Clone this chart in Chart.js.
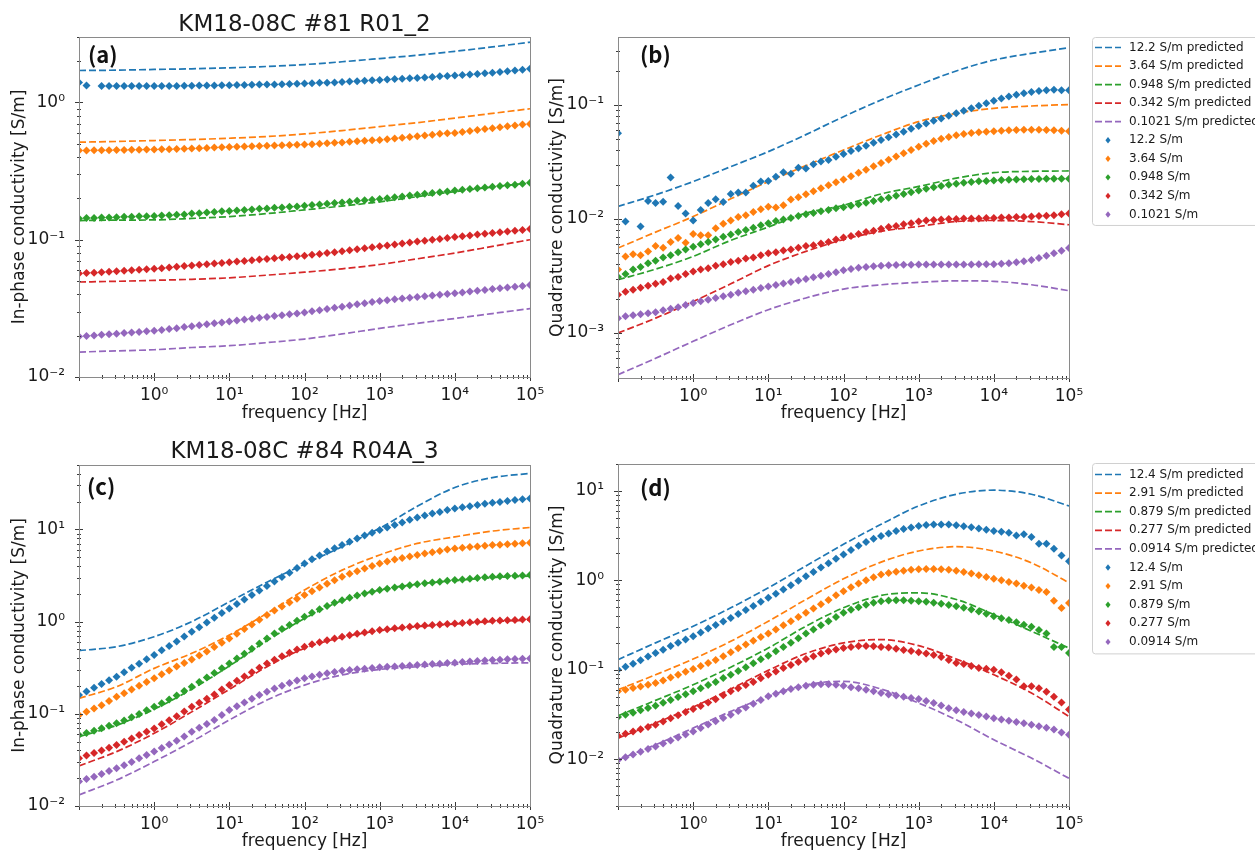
<!DOCTYPE html>
<html>
<head>
<meta charset="utf-8">
<script src="https://cdn.jsdelivr.net/npm/chart.js@4.4.1/dist/chart.umd.min.js"></script>
<style>
  html, body { margin: 0; padding: 0; background: #fff; }
  body { width: 1255px; height: 850px; position: relative; overflow: hidden; }
  canvas { position: absolute; }
</style>
</head>
<body>
<canvas id="chartA" width="560" height="430" style="left:0;top:0"></canvas>
<canvas id="chartB" width="725" height="430" style="left:530px;top:0"></canvas>
<canvas id="chartC" width="560" height="420" style="left:0;top:430px"></canvas>
<canvas id="chartD" width="725" height="420" style="left:530px;top:430px"></canvas>
<script>
// measurement frequencies (10 per decade) and frequencies of the model curves
const freqMeas = [
  0.1, 0.1259, 0.1585, 0.1995, 0.2512, 0.3162, 0.3981, 0.5012, 0.631, 0.7943,
  1, 1.259, 1.585, 1.995, 2.512, 3.162, 3.981, 5.012, 6.31, 7.943,
  10, 12.59, 15.85, 19.95, 25.12, 31.62, 39.81, 50.12, 63.1, 79.43,
  100, 125.9, 158.5, 199.5, 251.2, 316.2, 398.1, 501.2, 631, 794.3,
  1000, 1259, 1585, 1995, 2512, 3162, 3981, 5012, 6310, 7943,
  10000, 12589, 15849, 19953, 25119, 31623, 39811, 50119, 63096, 79433, 100000
];
const freqPred = [0.1, 0.3162, 1, 3.162, 10, 31.62, 100, 316.2, 1000, 3162, 10000, 31623, 100000];

const names81 = ['12.2 S/m', '3.64 S/m', '0.948 S/m', '0.342 S/m', '0.1021 S/m'];
const names84 = ['12.4 S/m', '2.91 S/m', '0.879 S/m', '0.277 S/m', '0.0914 S/m'];

const xTicks = [1, 10, 100, 1000, 10000, 100000];
const xTickLabels = ['10⁰', '10¹', '10²', '10³', '10⁴', '10⁵'];
const yTicksA = [0.01, 0.1, 1];
const yTickLabelsA = ['10⁻²', '10⁻¹', '10⁰'];
const yTicksB = [0.001, 0.01, 0.1];
const yTickLabelsB = ['10⁻³', '10⁻²', '10⁻¹'];
const yTicksCD = [0.01, 0.1, 1, 10];
const yTickLabelsCD = ['10⁻²', '10⁻¹', '10⁰', '10¹'];

// (a) #81 in-phase
const aPred1 = [1.71, 1.72, 1.74, 1.76, 1.79, 1.83, 1.89, 1.98, 2.09, 2.21, 2.36, 2.54, 2.75];
const aPred2 = [0.514, 0.52, 0.528, 0.537, 0.549, 0.565, 0.59, 0.624, 0.667, 0.713, 0.77, 0.833, 0.90];
const aPred3 = [0.138, 0.139, 0.1395, 0.143, 0.1475, 0.155, 0.165, 0.176, 0.189, 0.206, 0.224, 0.242, 0.26];
const aPred4 = [0.0492, 0.0498, 0.0506, 0.0515, 0.0528, 0.0552, 0.058, 0.0614, 0.066, 0.0726, 0.080, 0.0894, 0.10];
const aPred5 = [0.0152, 0.0155, 0.0158, 0.0164, 0.0169, 0.0178, 0.0189, 0.0206, 0.0226, 0.0246, 0.0267, 0.029, 0.0315];
const aMeas1 = [
  1.40, 1.33, null, 1.32, 1.32, 1.32, 1.32, 1.32, 1.32, 1.32,
  1.32, 1.32, 1.32, 1.32, 1.325, 1.325, 1.33, 1.33, 1.33, 1.335,
  1.335, 1.34, 1.34, 1.345, 1.35, 1.35, 1.355, 1.36, 1.365, 1.37,
  1.375, 1.38, 1.39, 1.395, 1.40, 1.41, 1.42, 1.43, 1.44, 1.45,
  1.46, 1.47, 1.48, 1.49, 1.50, 1.51, 1.52, 1.535, 1.55, 1.56,
  1.57, 1.585, 1.60, 1.615, 1.63, 1.65, 1.67, 1.69, 1.71, 1.73, 1.76];
const aMeas2 = [
  0.447, 0.447, 0.448, 0.448, 0.449, 0.45, 0.451, 0.452, 0.453, 0.454,
  0.455, 0.456, 0.457, 0.459, 0.461, 0.463, 0.465, 0.467, 0.469, 0.471,
  0.473, 0.475, 0.477, 0.479, 0.481, 0.483, 0.485, 0.488, 0.490, 0.492,
  0.494, 0.497, 0.500, 0.504, 0.508, 0.512, 0.517, 0.522, 0.527, 0.531,
  0.534, 0.540, 0.546, 0.553, 0.560, 0.567, 0.575, 0.583, 0.591, 0.596,
  0.60, 0.61, 0.62, 0.63, 0.64, 0.65, 0.66, 0.67, 0.68, 0.69, 0.697];
const aMeas3 = [
  0.143, 0.144, 0.144, 0.145, 0.145, 0.146, 0.147, 0.147, 0.148, 0.148,
  0.149, 0.150, 0.151, 0.152, 0.153, 0.155, 0.156, 0.158, 0.159, 0.161,
  0.162, 0.163, 0.165, 0.166, 0.168, 0.169, 0.171, 0.172, 0.174, 0.175,
  0.177, 0.179, 0.181, 0.183, 0.185, 0.187, 0.189, 0.192, 0.194, 0.196,
  0.198, 0.201, 0.204, 0.207, 0.210, 0.213, 0.216, 0.219, 0.222, 0.225,
  0.228, 0.231, 0.234, 0.237, 0.240, 0.243, 0.246, 0.249, 0.252, 0.256, 0.26];
const aMeas4 = [
  0.0568, 0.0572, 0.0576, 0.058, 0.0584, 0.0589, 0.0594, 0.0599, 0.0604, 0.0609,
  0.0614, 0.0621, 0.0628, 0.0635, 0.0643, 0.065, 0.0657, 0.0664, 0.0671, 0.0678,
  0.0686, 0.0693, 0.0701, 0.0709, 0.0717, 0.0725, 0.0733, 0.0741, 0.075, 0.0758,
  0.0766, 0.0777, 0.0788, 0.08, 0.0812, 0.0825, 0.0838, 0.0852, 0.0866, 0.088,
  0.0895, 0.0909, 0.0924, 0.0939, 0.0954, 0.0969, 0.0984, 0.0999, 0.1014, 0.103,
  0.1045, 0.106, 0.1075, 0.109, 0.1105, 0.112, 0.1135, 0.115, 0.1165, 0.118, 0.1195];
const aMeas5 = [
  0.0197, 0.0199, 0.0201, 0.0203, 0.0205, 0.0207, 0.0209, 0.0211, 0.0213, 0.0215,
  0.0217, 0.0220, 0.0224, 0.0227, 0.0231, 0.0234, 0.0238, 0.0242, 0.0246, 0.025,
  0.0254, 0.0258, 0.0262, 0.0266, 0.027, 0.0274, 0.0278, 0.0282, 0.0286, 0.029,
  0.0295, 0.0301, 0.0307, 0.0313, 0.0319, 0.0325, 0.0332, 0.0339, 0.0345, 0.0352,
  0.0358, 0.0363, 0.0368, 0.0373, 0.0378, 0.0383, 0.0388, 0.0393, 0.0398, 0.0402,
  0.0407, 0.0413, 0.0419, 0.0425, 0.0431, 0.0437, 0.0443, 0.0449, 0.0455, 0.0461, 0.0468];

// (b) #81 quadrature
const bPred1 = [0.0129, 0.0163, 0.0213, 0.0288, 0.039, 0.055, 0.079, 0.1106, 0.150, 0.199, 0.248, 0.284, 0.318];
const bPred2 = [0.00556, 0.00767, 0.0105, 0.01503, 0.0213, 0.0294, 0.0403, 0.0546, 0.0714, 0.0845, 0.0935, 0.098, 0.101];
const bPred3 = [0.00293, 0.00363, 0.0047, 0.00649, 0.0085, 0.01125, 0.0132, 0.0166, 0.0193, 0.0228, 0.0255, 0.0262, 0.0264];
const bPred4 = [0.001, 0.00135, 0.00189, 0.0027, 0.0039, 0.0052, 0.0066, 0.0078, 0.0086, 0.0095, 0.0097, 0.0095, 0.0089];
const bPred5 = [0.000431, 0.0006, 0.000845, 0.00118, 0.0016, 0.00203, 0.00243, 0.00265, 0.00278, 0.00287, 0.00284, 0.00265, 0.00235];
const bMeas1 = [
  0.0565, 0.0095, null, 0.0086, 0.0144, 0.0138, 0.0142, 0.0231, 0.0130, 0.0112,
  0.0097, 0.0120, 0.0138, 0.0149, 0.0141, 0.0166, 0.0171, 0.0171, 0.0196, 0.0213,
  0.0216, 0.0235, 0.0257, 0.0249, 0.0282, 0.0278, 0.0302, 0.0319, 0.033, 0.0352,
  0.0372, 0.0394, 0.0416, 0.044, 0.0466, 0.0493, 0.0522, 0.0552, 0.0584, 0.0618,
  0.0655, 0.069, 0.0726, 0.0763, 0.0803, 0.0845, 0.0889, 0.0935, 0.0983, 0.1035,
  0.109, 0.114, 0.119, 0.123, 0.127, 0.130, 0.133, 0.135, 0.136, 0.135, 0.135];
const bMeas2 = [
  0.0036, 0.0047, 0.0049, 0.0048, 0.0052, 0.0058, 0.0056, 0.0063, 0.0068, 0.0062,
  0.0074, 0.0072, 0.0072, 0.0083, 0.0091, 0.0097, 0.0104, 0.0108, 0.0115, 0.0122,
  0.0128, 0.0126, 0.0132, 0.0148, 0.0155, 0.0165, 0.0175, 0.0186, 0.0198, 0.021,
  0.0222, 0.0237, 0.0254, 0.0271, 0.029, 0.031, 0.0331, 0.0354, 0.0378, 0.0404,
  0.0431, 0.0458, 0.0483, 0.0505, 0.0525, 0.0542, 0.0556, 0.0567, 0.0576, 0.0583,
  0.0589, 0.0595, 0.06, 0.0604, 0.0607, 0.0608, 0.0607, 0.0604, 0.06, 0.0595, 0.0588];
const bMeas3 = [
  0.0031, 0.0033, 0.0036, 0.0038, 0.0041, 0.0043, 0.0046, 0.0048, 0.0051, 0.0054,
  0.0057, 0.006, 0.0063, 0.0066, 0.007, 0.0073, 0.0077, 0.008, 0.0084, 0.0088,
  0.0092, 0.0096, 0.0099, 0.0102, 0.0106, 0.011, 0.0113, 0.0117, 0.012, 0.0124,
  0.0127, 0.0131, 0.0135, 0.0139, 0.0144, 0.0149, 0.0154, 0.016, 0.0166, 0.0172,
  0.0178, 0.0184, 0.019, 0.0195, 0.02, 0.0204, 0.0208, 0.0211, 0.0214, 0.0216,
  0.0218, 0.022, 0.0221, 0.0222, 0.0223, 0.0224, 0.0224, 0.0225, 0.0225, 0.0225, 0.0226];
const bMeas4 = [
  0.00217, 0.0023, 0.0024, 0.0025, 0.0026, 0.0027, 0.0028, 0.003, 0.0031, 0.0033,
  0.00347, 0.0036, 0.0037, 0.0039, 0.004, 0.0042, 0.0043, 0.0045, 0.0046, 0.0048,
  0.005, 0.0051, 0.0053, 0.0054, 0.0056, 0.0058, 0.0059, 0.0061, 0.0063, 0.0066,
  0.0069, 0.0071, 0.0074, 0.0077, 0.0079, 0.0082, 0.0085, 0.0087, 0.009, 0.0092,
  0.0095, 0.0097, 0.0098, 0.0099, 0.01, 0.01, 0.0101, 0.0101, 0.0101, 0.0102,
  0.0102, 0.0103, 0.0103, 0.0104, 0.0104, 0.0105, 0.0106, 0.0107, 0.0108, 0.011, 0.0112];
const bMeas5 = [
  0.00135, 0.0014, 0.00143, 0.00146, 0.00149, 0.00152, 0.00158, 0.00163, 0.00168, 0.00176,
  0.00183, 0.0019, 0.00196, 0.00203, 0.0021, 0.00217, 0.00225, 0.00232, 0.0024, 0.00248,
  0.00256, 0.00264, 0.00272, 0.0028, 0.00289, 0.00298, 0.00308, 0.00318, 0.00329, 0.00342,
  0.00355, 0.00365, 0.00373, 0.0038, 0.00385, 0.00389, 0.00392, 0.00394, 0.00396, 0.00397,
  0.00398, 0.00398, 0.00398, 0.00398, 0.00398, 0.00398, 0.00399, 0.00399, 0.004, 0.004,
  0.00401, 0.00406, 0.0041, 0.00417, 0.00425, 0.00438, 0.00455, 0.00475, 0.005, 0.00526, 0.00556];

// (c) #84 in-phase
const cPred1 = [0.484, 0.535, 0.686, 1.0, 1.64, 2.68, 4.2, 6.5, 10.3, 17.8, 28.5, 36.5, 40.5];
const cPred2 = [0.147, 0.197, 0.311, 0.453, 0.715, 1.23, 2.2, 3.62, 5.28, 7.05, 8.3, 9.6, 10.5];
const cPred3 = [0.0565, 0.075, 0.112, 0.185, 0.33, 0.62, 1.08, 1.69, 2.2, 2.55, 2.78, 3.0, 3.12];
const cPred4 = [0.0272, 0.0389, 0.0614, 0.105, 0.184, 0.324, 0.513, 0.675, 0.797, 0.881, 0.942, 1.0, 1.04];
const cPred5 = [0.0132, 0.0191, 0.0303, 0.0499, 0.0857, 0.141, 0.205, 0.264, 0.303, 0.324, 0.344, 0.352, 0.358];
const cMeas1 = [
  0.16, 0.175, 0.192, 0.211, 0.231, 0.253, 0.283, 0.316, 0.349, 0.39,
  0.434, 0.49, 0.545, 0.61, 0.69, 0.776, 0.87, 0.98, 1.1, 1.24,
  1.39, 1.55, 1.74, 1.94, 2.17, 2.43, 2.72, 3.04, 3.4, 3.81,
  4.28, 4.75, 5.23, 5.75, 6.25, 6.76, 7.35, 7.95, 8.6, 9.2,
  9.84, 10.5, 11.2, 11.9, 12.7, 13.5, 14.2, 14.9, 15.5, 16.2,
  16.9, 17.4, 17.9, 18.4, 19.0, 19.5, 19.9, 20.3, 20.8, 21.2, 21.7];
const cMeas2 = [
  0.097, 0.105, 0.114, 0.124, 0.138, 0.153, 0.167, 0.183, 0.202, 0.222,
  0.243, 0.268, 0.295, 0.325, 0.356, 0.389, 0.43, 0.475, 0.53, 0.59,
  0.658, 0.74, 0.83, 0.93, 1.05, 1.18, 1.32, 1.46, 1.61, 1.77,
  1.94, 2.13, 2.34, 2.57, 2.81, 3.07, 3.3, 3.53, 3.77, 4.02,
  4.28, 4.5, 4.71, 4.9, 5.09, 5.28, 5.47, 5.66, 5.85, 6.04,
  6.22, 6.33, 6.44, 6.55, 6.66, 6.76, 6.84, 6.92, 7.0, 7.08, 7.16];
const cMeas3 = [
  0.0589, 0.0621, 0.0656, 0.0697, 0.0741, 0.0788, 0.0848, 0.0916, 0.0995, 0.109,
  0.119, 0.13, 0.143, 0.158, 0.177, 0.197, 0.221, 0.248, 0.277, 0.312,
  0.352, 0.397, 0.448, 0.508, 0.578, 0.658, 0.745, 0.83, 0.92, 1.02,
  1.13, 1.25, 1.36, 1.48, 1.6, 1.71, 1.82, 1.92, 2.02, 2.11,
  2.2, 2.27, 2.34, 2.41, 2.48, 2.55, 2.6, 2.66, 2.71, 2.77,
  2.82, 2.87, 2.92, 2.97, 3.02, 3.07, 3.1, 3.12, 3.15, 3.17, 3.2];
const cMeas4 = [
  0.0329, 0.0352, 0.0375, 0.0401, 0.0429, 0.0459, 0.0499, 0.0541, 0.0588, 0.064,
  0.0695, 0.0769, 0.085, 0.0941, 0.106, 0.119, 0.132, 0.146, 0.162, 0.183,
  0.205, 0.228, 0.254, 0.283, 0.316, 0.352, 0.385, 0.421, 0.46, 0.497,
  0.535, 0.567, 0.598, 0.628, 0.657, 0.686, 0.712, 0.738, 0.763, 0.787,
  0.811, 0.828, 0.845, 0.862, 0.879, 0.895, 0.907, 0.92, 0.932, 0.945,
  0.957, 0.969, 0.982, 0.994, 1.007, 1.02, 1.028, 1.036, 1.044, 1.052, 1.06];
const cMeas5 = [
  0.0184, 0.0196, 0.0208, 0.0223, 0.0239, 0.0256, 0.0277, 0.0301, 0.0329, 0.0358,
  0.0389, 0.0426, 0.0466, 0.051, 0.0568, 0.064, 0.0705, 0.0776, 0.0855, 0.0972,
  0.11, 0.121, 0.133, 0.146, 0.16, 0.174, 0.188, 0.202, 0.216, 0.23,
  0.243, 0.254, 0.265, 0.275, 0.285, 0.294, 0.299, 0.304, 0.309, 0.314,
  0.319, 0.323, 0.327, 0.331, 0.334, 0.338, 0.342, 0.346, 0.35, 0.355,
  0.359, 0.364, 0.369, 0.374, 0.378, 0.383, 0.386, 0.39, 0.393, 0.396, 0.399];

// (d) #84 quadrature
const dPred1 = [0.13, 0.2, 0.307, 0.493, 0.826, 1.45, 2.53, 4.23, 6.79, 9.18, 10.2, 9.18, 6.79];
const dPred2 = [0.0598, 0.088, 0.132, 0.208, 0.349, 0.611, 1.04, 1.6, 2.13, 2.38, 2.13, 1.57, 0.94];
const dPred3 = [0.0306, 0.0455, 0.068, 0.107, 0.175, 0.307, 0.493, 0.678, 0.726, 0.611, 0.415, 0.27, 0.175];
const dPred4 = [0.0172, 0.0254, 0.0383, 0.061, 0.0986, 0.152, 0.2, 0.218, 0.186, 0.132, 0.088, 0.055, 0.0301];
const dPred5 = [0.00984, 0.0145, 0.0223, 0.0343, 0.0505, 0.068, 0.0743, 0.061, 0.0425, 0.0276, 0.0165, 0.0103, 0.00612];
const dMeas1 = [
  0.100, 0.108, 0.117, 0.128, 0.141, 0.154, 0.168, 0.184, 0.2, 0.218,
  0.237, 0.262, 0.289, 0.316, 0.347, 0.38, 0.42, 0.465, 0.517, 0.575,
  0.638, 0.71, 0.79, 0.88, 0.99, 1.11, 1.24, 1.39, 1.55, 1.74,
  1.95, 2.18, 2.43, 2.68, 2.92, 3.13, 3.35, 3.56, 3.74, 3.9,
  4.05, 4.15, 4.2, 4.22, 4.2, 4.12, 4.03, 3.92, 3.8, 3.68,
  3.57, 3.5, 3.41, 3.18, 3.27, 3.05, 2.57, 2.57, 2.26, 1.9, 1.64];
const dMeas2 = [
  0.0574, 0.06, 0.0625, 0.065, 0.068, 0.071, 0.076, 0.082, 0.088, 0.095,
  0.102, 0.11, 0.119, 0.129, 0.142, 0.157, 0.174, 0.192, 0.211, 0.232,
  0.254, 0.283, 0.315, 0.35, 0.39, 0.433, 0.485, 0.54, 0.605, 0.68,
  0.757, 0.84, 0.92, 1.0, 1.08, 1.16, 1.21, 1.25, 1.28, 1.31,
  1.33, 1.34, 1.34, 1.33, 1.31, 1.28, 1.24, 1.19, 1.14, 1.09,
  1.04, 1.0, 0.96, 0.92, 0.87, 0.83, 0.78, 0.74, 0.59, 0.49, 0.56];
const dMeas3 = [
  0.0296, 0.0314, 0.0332, 0.0352, 0.0374, 0.0396, 0.0427, 0.046, 0.0496, 0.0534,
  0.0574, 0.0622, 0.0674, 0.073, 0.081, 0.088, 0.097, 0.107, 0.118, 0.131,
  0.144, 0.161, 0.18, 0.201, 0.226, 0.254, 0.283, 0.315, 0.35, 0.39,
  0.433, 0.468, 0.502, 0.535, 0.562, 0.585, 0.596, 0.6, 0.598, 0.592,
  0.585, 0.575, 0.562, 0.547, 0.531, 0.514, 0.494, 0.473, 0.45, 0.424,
  0.397, 0.378, 0.36, 0.34, 0.318, 0.302, 0.278, 0.255, 0.18, 0.18, 0.154];
const dMeas4 = [
  0.0183, 0.0193, 0.0204, 0.0216, 0.0229, 0.0243, 0.0264, 0.0287, 0.0311, 0.0337,
  0.0364, 0.0395, 0.043, 0.0469, 0.0519, 0.0574, 0.0623, 0.0675, 0.0732, 0.0806,
  0.088, 0.096, 0.105, 0.113, 0.122, 0.132, 0.142, 0.152, 0.161, 0.169,
  0.175, 0.18, 0.184, 0.185, 0.183, 0.18, 0.177, 0.172, 0.167, 0.162,
  0.157, 0.152, 0.146, 0.139, 0.129, 0.119, 0.116, 0.11, 0.105, 0.103,
  0.100, 0.094, 0.086, 0.078, 0.0655, 0.0655, 0.062, 0.057, 0.05, 0.043, 0.036];
const dMeas5 = [
  0.0098, 0.0105, 0.0113, 0.0121, 0.013, 0.0139, 0.015, 0.0162, 0.0175, 0.0189,
  0.0204, 0.0223, 0.0244, 0.0266, 0.029, 0.0314, 0.0346, 0.038, 0.0418, 0.046,
  0.0505, 0.054, 0.0575, 0.061, 0.064, 0.0664, 0.068, 0.069, 0.069, 0.068,
  0.0664, 0.064, 0.062, 0.06, 0.0575, 0.055, 0.053, 0.0515, 0.05, 0.0485,
  0.0471, 0.0448, 0.0425, 0.0398, 0.0372, 0.0352, 0.0338, 0.0325, 0.0312, 0.03,
  0.0288, 0.0279, 0.027, 0.0261, 0.0252, 0.0243, 0.0234, 0.0225, 0.0215, 0.0199, 0.0188];

const seriesColors = ['#1f77b4', '#ff7f0e', '#2ca02c', '#d62728', '#9467bd'];
const ink = '#1a1a1a';
const fontFam = "'DejaVu Sans', sans-serif";

Chart.defaults.font.family = fontFam;
Chart.defaults.color = ink;

// tick marks for a log axis: 1..9 x 10^n inside [min, max]
function logTickMarks(min, max) {
  const out = [];
  for (let e = Math.floor(Math.log10(min)); e <= Math.ceil(Math.log10(max)); e++) {
    for (let m = 1; m <= 9; m++) {
      const v = m * Math.pow(10, e);
      if (v >= min * 0.9999 && v <= max * 1.0001) out.push({ v, major: m === 1 });
    }
  }
  return out;
}

// frame, inout ticks, panel letter and the boxed legend
const panelDeco = {
  id: 'panelDeco',
  afterDatasetsDraw(chart, args, opts) {
    const { ctx, chartArea: a } = chart;
    ctx.save();
    ctx.strokeStyle = '#3a3a3a';
    ctx.lineWidth = 1;
    const xs = chart.scales.x, ys = chart.scales.y;
    logTickMarks(xs.min, xs.max).forEach(t => {
      const p = Math.round(xs.getPixelForValue(t.v)) + 0.5;
      const len = t.major ? 4 : 2;
      ctx.beginPath();
      ctx.moveTo(p, a.bottom - len);
      ctx.lineTo(p, a.bottom + len);
      ctx.stroke();
    });
    logTickMarks(ys.min, ys.max).forEach(t => {
      const p = Math.round(ys.getPixelForValue(t.v)) + 0.5;
      const len = t.major ? 4 : 2;
      ctx.beginPath();
      ctx.moveTo(a.left - len, p);
      ctx.lineTo(a.left + len, p);
      ctx.stroke();
    });
    ctx.strokeStyle = '#8a8a8a';
    ctx.strokeRect(a.left + 0.5, a.top + 0.5, a.right - a.left, a.bottom - a.top);
    ctx.restore();
  },
  afterDraw(chart, args, opts) {
    const { ctx, chartArea: a } = chart;
    ctx.save();
    ctx.fillStyle = '#111';
    ctx.font = "bold 22px 'Noto Sans CJK JP', 'DejaVu Sans', sans-serif";
    ctx.textBaseline = 'middle';
    ctx.textAlign = 'left';
    ctx.fillText(opts.letter, a.left + opts.letterDx, a.top + opts.letterDy);

    if (opts.legend) {
      const L = opts.legend;
      const items = chart.data.datasets;
      const h = L.firstRow + L.rowH * (items.length - 1) + L.firstRow;
      ctx.beginPath();
      ctx.roundRect(L.x + 0.5, L.y + 0.5, 200, h, 3);
      ctx.fillStyle = 'rgba(255,255,255,0.8)';
      ctx.fill();
      ctx.strokeStyle = '#d0d0d0';
      ctx.lineWidth = 1;
      ctx.stroke();
      ctx.font = '12px ' + fontFam;
      items.forEach((d, i) => {
        const cy = L.y + L.firstRow + i * L.rowH;
        if (d.showLine) {
          ctx.save();
          ctx.strokeStyle = d.borderColor;
          ctx.lineWidth = d.borderWidth;
          ctx.setLineDash(d.borderDash);
          ctx.beginPath();
          ctx.moveTo(L.x + 3, cy);
          ctx.lineTo(L.x + 29, cy);
          ctx.stroke();
          ctx.restore();
        } else {
          const cx = L.x + 16, r = 3.2;
          ctx.beginPath();
          ctx.moveTo(cx, cy - r);
          ctx.lineTo(cx + r * 0.8, cy);
          ctx.lineTo(cx, cy + r);
          ctx.lineTo(cx - r * 0.8, cy);
          ctx.closePath();
          ctx.fillStyle = d.backgroundColor;
          ctx.fill();
        }
        ctx.fillStyle = ink;
        ctx.fillText(d.label, L.x + 37, cy);
      });
    }
    ctx.restore();
  }
};

function makePanel(id, cfg) {
  const datasets = [];
  cfg.pred.forEach((vals, i) => datasets.push({
    label: cfg.names[i] + ' predicted',
    data: freqPred.map((f, k) => ({ x: f, y: vals[k] })),
    showLine: true,
    borderColor: seriesColors[i],
    borderWidth: 1.7,
    borderDash: [7, 3],
    pointRadius: 0,
    cubicInterpolationMode: 'monotone',
    clip: 0,
    order: 20 - i
  }));
  cfg.meas.forEach((vals, i) => datasets.push({
    label: cfg.names[i],
    data: freqMeas.map((f, k) => ({ x: f, y: vals[k] })),
    showLine: false,
    pointStyle: 'rectRot',
    pointRadius: 4,
    pointBorderWidth: 0,
    backgroundColor: seriesColors[i],
    borderColor: seriesColors[i],
    clip: 0,
    order: 10 - i
  }));

  return new Chart(document.getElementById(id), {
    type: 'scatter',
    data: { datasets },
    plugins: [panelDeco],
    options: {
      responsive: false,
      animation: false,
      devicePixelRatio: 1,
      events: [],
      layout: { padding: { top: cfg.padTop, left: 0, right: cfg.padRight, bottom: 0 } },
      plugins: {
        legend: { display: false },
        tooltip: { enabled: false },
        title: cfg.title ? {
          display: true,
          text: cfg.title,
          fullSize: false,
          color: ink,
          font: { size: 23, weight: 'normal', lineHeight: 1 },
          padding: { top: cfg.titlePad[0], bottom: cfg.titlePad[1] }
        } : { display: false },
        panelDeco: {
          letter: cfg.letter,
          letterDx: cfg.letterPos[0],
          letterDy: cfg.letterPos[1],
          legend: cfg.legend || null
        }
      },
      scales: {
        x: {
          type: 'logarithmic',
          min: 0.1,
          max: 100000,
          afterBuildTicks: s => { s.ticks = xTicks.map(v => ({ value: v })); },
          afterFit: s => { s.height = cfg.xAxisH; },
          grid: { display: false },
          border: { display: false },
          ticks: {
            autoSkip: false, maxRotation: 0, minRotation: 0, padding: 2,
            font: { size: 17, lineHeight: 1 },
            callback: (v, i) => xTickLabels[i]
          },
          title: {
            display: true, text: 'frequency [Hz]',
            font: { size: 17, lineHeight: 1 },
            padding: { top: 0, bottom: cfg.xTitlePad }
          }
        },
        y: {
          type: 'logarithmic',
          min: cfg.yMin,
          max: cfg.yMax,
          afterBuildTicks: s => { s.ticks = cfg.yTicks.map(v => ({ value: v })); },
          afterFit: s => { s.width = cfg.yAxisW; },
          grid: { display: false },
          border: { display: false },
          ticks: {
            autoSkip: false, padding: 6,
            font: { size: 17, lineHeight: 1 },
            callback: (v, i) => cfg.yTickLabels[i]
          },
          title: {
            display: true, text: cfg.yTitle,
            font: { size: 17, lineHeight: 1 },
            padding: { top: cfg.yTitlePad, bottom: 0 }
          }
        }
      }
    }
  });
}

makePanel('chartA', {
  title: 'KM18-08C #81 R01_2', titlePad: [13.5, 0.5], padTop: 0, padRight: 30,
  xAxisH: 53, yAxisW: 79, xTitlePad: 7.5, yTitlePad: 11,
  yMin: 0.01, yMax: 3.0, yTicks: yTicksA, yTickLabels: yTickLabelsA,
  yTitle: 'In-phase conductivity [S/m]',
  letter: '(a)', letterPos: [9, 18],
  names: names81,
  pred: [aPred1, aPred2, aPred3, aPred4, aPred5],
  meas: [aMeas1, aMeas2, aMeas3, aMeas4, aMeas5]
});

makePanel('chartB', {
  padTop: 37, padRight: 186,
  xAxisH: 52, yAxisW: 88, xTitlePad: 7.5, yTitlePad: 19.5,
  yMin: 0.000403, yMax: 0.395, yTicks: yTicksB, yTickLabels: yTickLabelsB,
  yTitle: 'Quadrature conductivity [S/m]',
  letter: '(b)', letterPos: [22, 18],
  legend: { x: 562, y: 37, firstRow: 10.5, rowH: 18.55 },
  names: names81,
  pred: [bPred1, bPred2, bPred3, bPred4, bPred5],
  meas: [bMeas1, bMeas2, bMeas3, bMeas4, bMeas5]
});

makePanel('chartC', {
  title: 'KM18-08C #84 R04A_3', titlePad: [10.5, 1.5], padTop: 0, padRight: 30,
  xAxisH: 44, yAxisW: 79, xTitlePad: 0, yTitlePad: 11,
  yMin: 0.01, yMax: 50, yTicks: yTicksCD, yTickLabels: yTickLabelsCD,
  yTitle: 'In-phase conductivity [S/m]',
  letter: '(c)', letterPos: [8, 22],
  names: names84,
  pred: [cPred1, cPred2, cPred3, cPred4, cPred5],
  meas: [cMeas1, cMeas2, cMeas3, cMeas4, cMeas5]
});

makePanel('chartD', {
  padTop: 34, padRight: 186,
  xAxisH: 44, yAxisW: 88, xTitlePad: 0, yTitlePad: 19.5,
  yMin: 0.003, yMax: 20, yTicks: yTicksCD, yTickLabels: yTickLabelsCD,
  yTitle: 'Quadrature conductivity [S/m]',
  letter: '(d)', letterPos: [22, 24],
  legend: { x: 562, y: 33, firstRow: 11.5, rowH: 18.6 },
  names: names84,
  pred: [dPred1, dPred2, dPred3, dPred4, dPred5],
  meas: [dMeas1, dMeas2, dMeas3, dMeas4, dMeas5]
});
</script>
</body>
</html>
